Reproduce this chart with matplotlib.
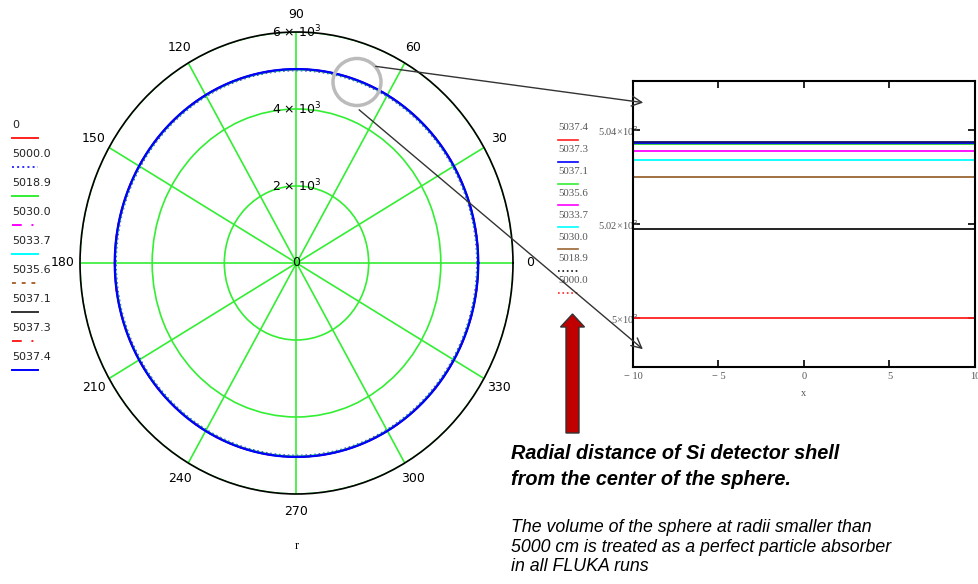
import numpy as np
import matplotlib.pyplot as plt
import matplotlib.patches as mpatches

# radii of the shells (cm), as listed in the legends
radii = [0, 5000.0, 5018.9, 5030.0, 5033.7, 5035.6, 5037.1, 5037.3, 5037.4]
radii_labels = ['0', '5000.0', '5018.9', '5030.0', '5033.7', '5035.6', '5037.1', '5037.3', '5037.4']
left_colors = ['#ff2020', '#3030ff', '#33ee33', '#ff00ff', '#00ffff', '#aa6633', '#333333', '#ff2020', '#0000ff']
left_styles = ['-', ':', '-', (0, (5, 5, 1, 5)), '-', (0, (2, 3)), '-', (0, (5, 5, 1, 5)), '-']

# zoomed panel
zoom_vals = [5000.0, 5018.9, 5030.0, 5033.7, 5035.6, 5037.1, 5037.3, 5037.4]
zoom_colors = ['#ff2020', '#111111', '#996633', '#00ffff', '#ff00ff', '#33cc33', '#0000ff', '#10106a']
zoom_x = [-10, 10]
zoom_leg_labels = ['5037.4', '5037.3', '5037.1', '5035.6', '5033.7', '5030.0', '5018.9', '5000.0']
zoom_leg_colors = ['#ff2020', '#0000ff', '#33ee33', '#ff00ff', '#00ffff', '#996633', '#111111', '#ff2020']
zoom_leg_styles = ['-', '-', '-', '-', '-', '-', ':', ':']

r_ticks = [2000, 4000, 6000]
r_tick_labels = ['2 × 10$^{3}$', '4 × 10$^{3}$', '6 × 10$^{3}$']
theta_ticks = list(range(0, 360, 30))

W, H = 979, 584
fig = plt.figure(figsize=(W / 100, H / 100), dpi=100)

# ---- polar plot ----
ax = fig.add_axes([80 / W, 1 - 494 / H, 433 / W, 462 / H], projection='polar')
ax.set_aspect('auto')
theta = np.linspace(0, 2 * np.pi, 721)
for r, c, ls in zip(radii, left_colors, left_styles):
    lw = 1.6 if r == radii[-1] else 1.2
    ax.plot(theta, np.full_like(theta, r), color=c, linestyle=ls, lw=lw)
ax.set_ylim(0, 6000)
ax.set_rgrids(r_ticks, labels=[''] * 3)
ax.set_thetagrids(theta_ticks, labels=[str(t) for t in theta_ticks], fontsize=9)
ax.grid(True, color='#33ee33', lw=1.2)
ax.spines['polar'].set_color('black')
ax.spines['polar'].set_linewidth(1.2)
ax.tick_params(axis='x', pad=2)
for r, lab in zip(r_ticks, r_tick_labels):
    ax.text(np.pi / 2, r, lab, ha='center', va='center', fontsize=9)
ax.text(0, 0, '0', ha='center', va='center', fontsize=9)
ax.set_xlabel('r', family='Liberation Serif', fontsize=9, labelpad=16)

# ---- zoomed panel ----
ax2 = fig.add_axes([633 / W, 1 - 367 / H, 342 / W, 286 / H])
for v, c in zip(zoom_vals, zoom_colors):
    ax2.plot(zoom_x, [v, v], color=c, lw=1.3)
ax2.set_xlim(-10, 10)
ax2.set_ylim(4989.6, 5050.4)
ax2.set_xticks([-10, -5, 0, 5, 10])
ax2.set_xticklabels(['− 10', '− 5', '0', '5', '10'])
ax2.set_yticks([5000, 5020, 5040])
ax2.set_yticklabels(['5×10$^{3}$', '5.02×10$^{3}$', '5.04×10$^{3}$'])
ax2.tick_params(direction='in', length=5, width=1.2, top=True, right=True,
                labelsize=7.5, labelcolor='#555555')
ax2.tick_params(axis='y', pad=-4)
for lab in ax2.get_xticklabels() + ax2.get_yticklabels():
    lab.set_family('Liberation Serif')
for s in ax2.spines.values():
    s.set_linewidth(1.5)
ax2.set_xlabel('x', family='Liberation Serif', fontsize=7.5, color='#555555', labelpad=6)

# ---- overlay in pixel units: legends, arrows, notes ----
ov = fig.add_axes([0, 0, 1, 1], facecolor='none')
ov.set_xlim(0, W)
ov.set_ylim(H, 0)
ov.axis('off')

for i, (lab, c, ls) in enumerate(zip(radii_labels, left_colors, left_styles)):
    y = 125 + i * 29
    ov.text(12, y, lab, fontsize=8, va='center', ha='left', color='#222222')
    ov.plot([12, 38], [y + 13, y + 13], color=c, linestyle=ls, lw=1.4)

for i, (lab, c, ls) in enumerate(zip(zoom_leg_labels, zoom_leg_colors, zoom_leg_styles)):
    y = 128 + i * 21.8
    ov.text(558, y, lab, fontsize=7.8, va='center', ha='left', color='#555555',
            family='Liberation Serif')
    ov.plot([558, 578], [y + 12, y + 12], color=c, linestyle=ls, lw=1.2)

ov.add_patch(mpatches.Ellipse((357, 82), 48, 47, fill=False, ec='#bbbbbb', lw=2.5))
ov.annotate('', xy=(646, 103), xytext=(373, 66),
            arrowprops=dict(arrowstyle='->', color='#333333', lw=1, mutation_scale=18))
ov.annotate('', xy=(645, 351), xytext=(357, 108),
            arrowprops=dict(arrowstyle='->', color='#333333', lw=1, mutation_scale=18))
ov.add_patch(mpatches.FancyArrow(572.5, 433, 0, -119, width=13, head_width=24,
                                 head_length=13, length_includes_head=True,
                                 fc='#c00000', ec='#333333', lw=1))

for y, line in zip([459, 485], ['Radial distance of Si detector shell',
                                'from the center of the sphere.']):
    ov.text(511, y, line, fontsize=14.3, fontweight='bold', style='italic',
            family='Liberation Sans', va='baseline', ha='left')
for y, line in zip([532, 552, 571], ['The volume of the sphere at radii smaller than',
                                     '5000 cm is treated as a perfect particle absorber',
                                     'in all FLUKA runs']):
    ov.text(511, y, line, fontsize=12.8, style='italic',
            family='Liberation Sans', va='baseline', ha='left')

fig.savefig('out.png', dpi=100)
